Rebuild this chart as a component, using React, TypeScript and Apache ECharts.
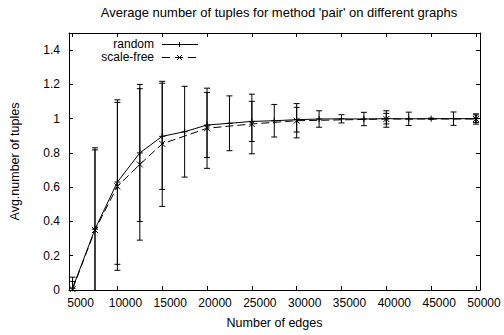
import React, { useEffect, useRef } from "react";
import * as echarts from "echarts";

const xTicks = [5000, 10000, 15000, 20000, 25000, 30000, 35000, 40000, 45000, 50000];
const yTicks = [0, 0.2, 0.4, 0.6, 0.8, 1, 1.2, 1.4];

const randomX = [5000, 7500, 10000, 12500, 15000, 17500, 20000, 22500, 25000, 27500, 30000, 32500, 35000, 37500, 40000, 42500, 45000, 47500, 50000];
const randomY = [0.01, 0.355, 0.63, 0.8, 0.897, 0.924, 0.963, 0.973, 0.984, 0.988, 0.994, 0.998, 0.999, 0.998, 1.0, 0.999, 1.0, 1.0, 1.0];
const randomErr = [0.065, 0.475, 0.48, 0.4, 0.31, 0.265, 0.19, 0.16, 0.117, 0.095, 0.072, 0.048, 0.024, 0.039, 0.031, 0.039, 0.003, 0.039, 0.022];

const sfX = [5000, 7500, 10000, 12500, 15000, 20000, 25000, 30000, 40000, 50000];
const sfY = [0.005, 0.35, 0.605, 0.733, 0.853, 0.944, 0.969, 0.988, 0.998, 0.998];
const sfErr = [0.045, 0.468, 0.49, 0.442, 0.365, 0.234, 0.174, 0.1, 0.048, 0.03];

const FONT = "'Liberation Sans', Arial, sans-serif";
const PLUS = "path://M0,5L10,5M5,0L5,10";
const CROSS = "path://M0,0L10,10M10,0L0,10";

function errorRender(params: any, api: any) {
  const x = api.value(0);
  const lo = api.value(1);
  const hi = api.value(2);
  const top = api.coord([x, hi]);
  const bot = api.coord([x, Math.max(lo, 0)]);
  const w = 3;
  const st = { stroke: "#000", lineWidth: 1 };
  const children: any[] = [
    { type: "line", shape: { x1: top[0], y1: top[1], x2: bot[0], y2: bot[1] }, style: st },
    { type: "line", shape: { x1: top[0] - w, y1: top[1], x2: top[0] + w, y2: top[1] }, style: st },
  ];
  if (lo >= 0) {
    children.push({ type: "line", shape: { x1: bot[0] - w, y1: bot[1], x2: bot[0] + w, y2: bot[1] }, style: st });
  }
  return { type: "group", children };
}

export default function App() {
  const ref = useRef<HTMLDivElement>(null);
  useEffect(() => {
    if (!ref.current) return;
    const chart = echarts.init(ref.current, undefined, { renderer: "svg" });
    const randomData = randomX.map((x, i) => [x, randomY[i]]);
    const sfData = sfX.map((x, i) => [x, sfY[i]]);
    const randomErrData = randomX.map((x, i) => [x, randomY[i] - randomErr[i], randomY[i] + randomErr[i]]);
    const sfErrData = sfX.map((x, i) => [x, sfY[i] - sfErr[i], sfY[i] + sfErr[i]]);

    const axisLine = { show: true, onZero: false, lineStyle: { color: "#000", width: 1 } };
    const baseX = {
      type: "value",
      min: 4600,
      max: 50450,
      splitLine: { show: false },
      axisLine,
    };
    const baseY = {
      type: "value",
      min: 0,
      max: 1.5,
      splitLine: { show: false },
      axisLine,
    };

    chart.setOption({
      animation: false,
      title: {
        text: "Average number of tuples for method 'pair' on different graphs",
        left: 274,
        top: 1,
        textAlign: "center",
        textStyle: { fontFamily: FONT, fontSize: 13, fontWeight: "normal", color: "#000" },
      },
      grid: { left: 69, right: 24, top: 33, bottom: 45, containLabel: false },
      xAxis: [
        {
          ...baseX,
          position: "bottom",
          name: "Number of edges",
          nameLocation: "middle",
          nameGap: 26,
          nameTextStyle: { fontFamily: FONT, fontSize: 12.5, color: "#000" },
          axisTick: { show: true, inside: true, length: 4, customValues: xTicks, lineStyle: { color: "#000" } },
          axisLabel: {
            customValues: xTicks,
            formatter: (v: number) => String(v),
            fontFamily: FONT,
            fontSize: 12,
            color: "#000",
            margin: 7,
            padding: [0, 0, 0, 16],
          },
        },
        {
          ...baseX,
          position: "top",
          axisTick: { show: true, inside: true, length: 4, customValues: xTicks, lineStyle: { color: "#000" } },
          axisLabel: { show: false },
        },
      ],
      yAxis: [
        {
          ...baseY,
          position: "left",
          name: "Avg.number of tuples",
          nameLocation: "middle",
          nameGap: 48,
          nameTextStyle: { fontFamily: FONT, fontSize: 12.5, color: "#000" },
          axisTick: { show: true, inside: true, length: 4, customValues: yTicks, lineStyle: { color: "#000" } },
          axisLabel: { customValues: yTicks, fontFamily: FONT, fontSize: 12, color: "#000", margin: 9 },
        },
        {
          ...baseY,
          position: "right",
          axisTick: { show: true, inside: true, length: 4, customValues: yTicks, lineStyle: { color: "#000" } },
          axisLabel: { show: false },
        },
      ],
      series: [
        {
          name: "random-err",
          type: "custom",
          renderItem: errorRender,
          data: randomErrData,
          encode: { x: 0, y: [1, 2] },
          clip: true,
          silent: true,
          z: 1,
        },
        {
          name: "scale-free-err",
          type: "custom",
          renderItem: errorRender,
          data: sfErrData,
          encode: { x: 0, y: [1, 2] },
          clip: true,
          silent: true,
          z: 1,
        },
        {
          name: "random",
          type: "line",
          data: randomData,
          symbol: PLUS,
          symbolSize: 6,
          showAllSymbol: true,
          itemStyle: { color: "#000", borderColor: "#000", borderWidth: 1 },
          lineStyle: { color: "#000", width: 1, type: "solid" },
          z: 3,
        },
        {
          name: "scale-free",
          type: "line",
          data: sfData,
          symbol: CROSS,
          symbolSize: 6,
          showAllSymbol: true,
          itemStyle: { color: "#000", borderColor: "#000", borderWidth: 1 },
          lineStyle: { color: "#000", width: 1, type: [8, 4] },
          z: 3,
        },
      ],
      graphic: [
        {
          type: "text",
          x: 154,
          y: 44,
          style: { text: "random", fontFamily: FONT, fontSize: 12, fill: "#000", textAlign: "right", textVerticalAlign: "middle" },
        },
        { type: "line", shape: { x1: 162, y1: 44.5, x2: 198, y2: 44.5 }, style: { stroke: "#000", lineWidth: 1 } },
        { type: "line", shape: { x1: 179.5, y1: 42, x2: 179.5, y2: 47 }, style: { stroke: "#000", lineWidth: 1 } },
        {
          type: "text",
          x: 154,
          y: 57,
          style: { text: "scale-free", fontFamily: FONT, fontSize: 12, fill: "#000", textAlign: "right", textVerticalAlign: "middle" },
        },
        { type: "line", shape: { x1: 162, y1: 57.5, x2: 198, y2: 57.5 }, style: { stroke: "#000", lineWidth: 1, lineDash: [8, 5] } },
        { type: "line", shape: { x1: 177, y1: 55, x2: 182, y2: 60 }, style: { stroke: "#000", lineWidth: 1 } },
        { type: "line", shape: { x1: 182, y1: 55, x2: 177, y2: 60 }, style: { stroke: "#000", lineWidth: 1 } },
      ],
    });
    return () => chart.dispose();
  }, []);
  return <div ref={ref} style={{ position: "fixed", left: 0, top: 0, width: 504, height: 335, background: "#fff" }} />;
}
